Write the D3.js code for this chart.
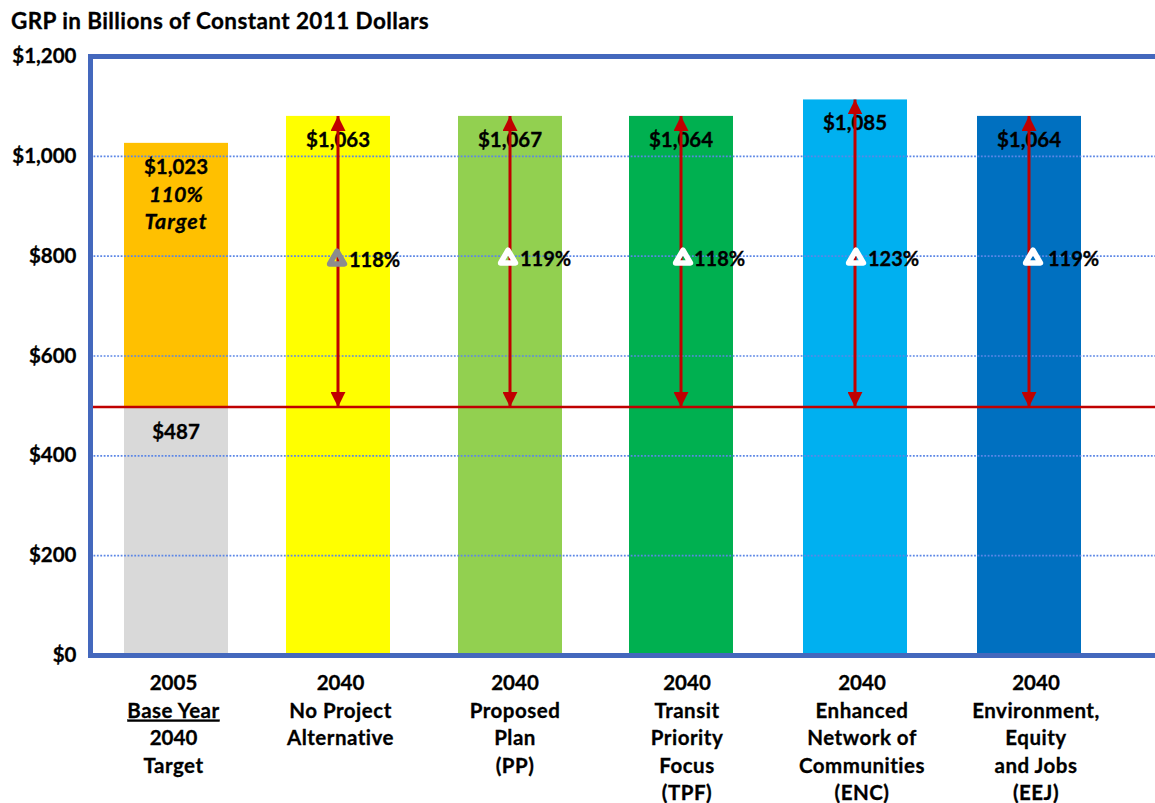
<!DOCTYPE html>
<html>
<head>
<meta charset="utf-8">
<script src="https://cdn.jsdelivr.net/npm/d3@7"></script>
<style>
  html, body { margin: 0; padding: 0; background: #fff; overflow: hidden; }
  text { font-family: Lato, "Open Sans", sans-serif; font-weight: 700; fill: #000; stroke: #000; stroke-width: 0.3px; }
</style>
</head>
<body>
<div id="canvas"></div>
<script>
// values
var categories = ["base", "npa", "pp", "tpf", "enc", "eej"];
var categoryLines = [
  ["2005", "Base Year", "2040", "Target"],
  ["2040", "No Project", "Alternative"],
  ["2040", "Proposed", "Plan", "(PP)"],
  ["2040", "Transit", "Priority", "Focus", "(TPF)"],
  ["2040", "Enhanced", "Network of", "Communities", "(ENC)"],
  ["2040", "Environment,", "Equity", "and Jobs", "(EEJ)"]
];
var barTops = [1027, 1081, 1081, 1081, 1114, 1081];
var barLabels = ["$1,023", "$1,063", "$1,067", "$1,064", "$1,085", "$1,064"];
var barColors = ["#ffc000", "#ffff00", "#92d050", "#00b050", "#00b0f0", "#0070c0"];
var baseValue = 498;
var baseLabel = "$487";
var targetNotes = ["110%", "Target"];
var growthCategories = ["npa", "pp", "tpf", "enc", "eej"];
var growthLevels = [793, 795, 795, 795, 795];
var growthLabels = ["118%", "119%", "118%", "123%", "119%"];
var growthColors = ["#8c8c8c", "#ffffff", "#ffffff", "#ffffff", "#ffffff"];
var yTicks = [0, 200, 400, 600, 800, 1000, 1200];

var width = 1155, height = 803;
var margin = {left: 90.5, top: 56.5, bottom: 655.5};
var barWidth = 104;

var svg = d3.select("#canvas").append("svg")
  .attr("width", width)
  .attr("height", height)
  .style("display", "block");

var y = d3.scaleLinear().domain([0, 1200]).range([margin.bottom, margin.top]);

// the columns are not evenly spaced in the original
var x = d3.scaleOrdinal().domain(categories).range([176, 338, 510, 681, 855, 1029]);
var labelX = d3.scaleOrdinal().domain(categories).range([173.5, 340.5, 515, 687, 862, 1036]);
var markerX = d3.scaleOrdinal().domain(growthCategories).range([337, 508, 683, 856, 1033]);
var growthTextX = d3.scaleOrdinal().domain(growthCategories).range([349, 520, 694, 868, 1048]);

var defs = svg.append("defs");
defs.append("marker")
  .attr("id", "head")
  .attr("markerUnits", "userSpaceOnUse")
  .attr("viewBox", "0 0 15 15")
  .attr("refX", 15)
  .attr("refY", 7.5)
  .attr("markerWidth", 15)
  .attr("markerHeight", 15)
  .attr("orient", "auto-start-reverse")
  .append("path")
  .attr("d", "M0,0L15,7.5L0,15Z")
  .attr("fill", "#c00000");

// bars
svg.selectAll(".bar")
  .data(categories)
  .enter().append("rect")
  .attr("class", "bar")
  .attr("x", function(d) { return x(d) - barWidth / 2; })
  .attr("width", barWidth)
  .attr("y", function(d, i) { return y(barTops[i]); })
  .attr("height", function(d, i) { return y(0) - y(barTops[i]); })
  .attr("fill", function(d, i) { return barColors[i]; });

// grey base year block on the first bar
svg.append("rect")
  .attr("x", x("base") - barWidth / 2)
  .attr("width", barWidth)
  .attr("y", y(baseValue))
  .attr("height", y(0) - y(baseValue))
  .attr("fill", "#d9d9d9");

// y axis
var yAxis = svg.append("g")
  .attr("class", "y-axis")
  .attr("transform", "translate(" + margin.left + ",0)")
  .call(d3.axisLeft(y)
    .tickValues(yTicks)
    .tickSize(0)
    .tickPadding(14)
    .tickFormat(function(d) { return "$" + d3.format(",")(d); }));
yAxis.select(".domain").remove();
yAxis.selectAll("text")
  .style("font-size", "20.5px")
  .style("font-family", "Lato")
  .attr("dy", "0.3em");

svg.selectAll(".grid")
  .data(yTicks.filter(function(d) { return d > 0 && d < 1200; }))
  .enter().append("line")
  .attr("class", "grid")
  .attr("x1", margin.left + 3)
  .attr("x2", width)
  .attr("y1", function(d) { return y(d); })
  .attr("y2", function(d) { return y(d); })
  .attr("stroke", "#5b86e6")
  .attr("stroke-width", 1.6)
  .attr("stroke-dasharray", "1.8 1.6");

// value labels
svg.selectAll(".bar-label")
  .data(categories)
  .enter().append("text")
  .attr("class", "bar-label")
  .attr("x", function(d) { return x(d); })
  .attr("y", function(d, i) { return y(barTops[i]) + 31; })
  .attr("text-anchor", "middle")
  .style("font-size", "20.5px")
  .text(function(d, i) { return barLabels[i]; });

svg.selectAll(".note")
  .data(targetNotes)
  .enter().append("text")
  .attr("class", "note")
  .attr("x", x("base"))
  .attr("y", function(d, i) { return y(barTops[0]) + 59 + i * 27; })
  .attr("text-anchor", "middle")
  .style("font-size", "21.5px")
  .style("font-style", "italic")
  .style("letter-spacing", function(d) { return d === "Target" ? "1px" : null; })
  .text(function(d) { return d; });

svg.append("text")
  .attr("x", x("base"))
  .attr("y", y(baseValue) + 32)
  .attr("text-anchor", "middle")
  .style("font-size", "20.5px")
  .text(baseLabel);

// target line
svg.append("line")
  .attr("x1", margin.left)
  .attr("x2", width)
  .attr("y1", y(baseValue))
  .attr("y2", y(baseValue))
  .attr("stroke", "#c00000")
  .attr("stroke-width", 2.5);

// double arrows from the base level up to the bar top
svg.selectAll(".arrow")
  .data(growthCategories)
  .enter().append("line")
  .attr("class", "arrow")
  .attr("x1", function(d) { return x(d); })
  .attr("x2", function(d) { return x(d); })
  .attr("y1", y(baseValue))
  .attr("y2", function(d) { return y(barTops[categories.indexOf(d)]); })
  .attr("stroke", "#c00000")
  .attr("stroke-width", 3)
  .attr("marker-start", "url(#head)")
  .attr("marker-end", "url(#head)");

// growth markers
svg.selectAll(".growth-marker")
  .data(growthCategories)
  .enter().append("path")
  .attr("class", "growth-marker")
  .attr("d", d3.symbol().type(d3.symbolTriangle).size(95))
  .attr("transform", function(d, i) { return "translate(" + markerX(d) + "," + y(growthLevels[i]) + ")"; })
  .attr("fill", "none")
  .attr("stroke", function(d, i) { return growthColors[i]; })
  .attr("stroke-width", 5.5)
  .attr("stroke-linejoin", "round");

svg.selectAll(".growth-label")
  .data(growthCategories)
  .enter().append("text")
  .attr("class", "growth-label")
  .attr("x", function(d) { return growthTextX(d); })
  .attr("y", function(d, i) { return y(growthLevels[i]) + 7; })
  .style("font-size", "20px")
  .text(function(d, i) { return growthLabels[i]; });

// frame, open on the right
var frame = d3.path();
frame.moveTo(width, margin.top);
frame.lineTo(margin.left, margin.top);
frame.lineTo(margin.left, margin.bottom);
frame.lineTo(width, margin.bottom);
svg.append("path")
  .attr("d", frame.toString())
  .attr("fill", "none")
  .attr("stroke", "#4468bd")
  .attr("stroke-width", 5);

// category labels
var catLabel = svg.selectAll(".cat-label")
  .data(categories)
  .enter().append("text")
  .attr("class", "cat-label")
  .attr("text-anchor", "middle")
  .style("font-size", "20.5px");

catLabel.selectAll("tspan")
  .data(function(d, i) { return categoryLines[i].map(function(line) { return {cat: d, line: line}; }); })
  .enter().append("tspan")
  .attr("x", function(d) { return labelX(d.cat); })
  .attr("y", function(d, i) { return 690 + i * 27.6; })
  .style("letter-spacing", function(d) { return /^\d+$/.test(d.line) ? null : "0.5px"; })
  .style("text-decoration", function(d) { return d.line === "Base Year" ? "underline" : null; })
  .text(function(d) { return d.line; });

// title
svg.append("text")
  .attr("x", 11)
  .attr("y", 29)
  .style("font-size", "22.5px")
  .style("letter-spacing", "0.4px")
  .text("GRP in Billions of Constant 2011 Dollars");
</script>
</body>
</html>
